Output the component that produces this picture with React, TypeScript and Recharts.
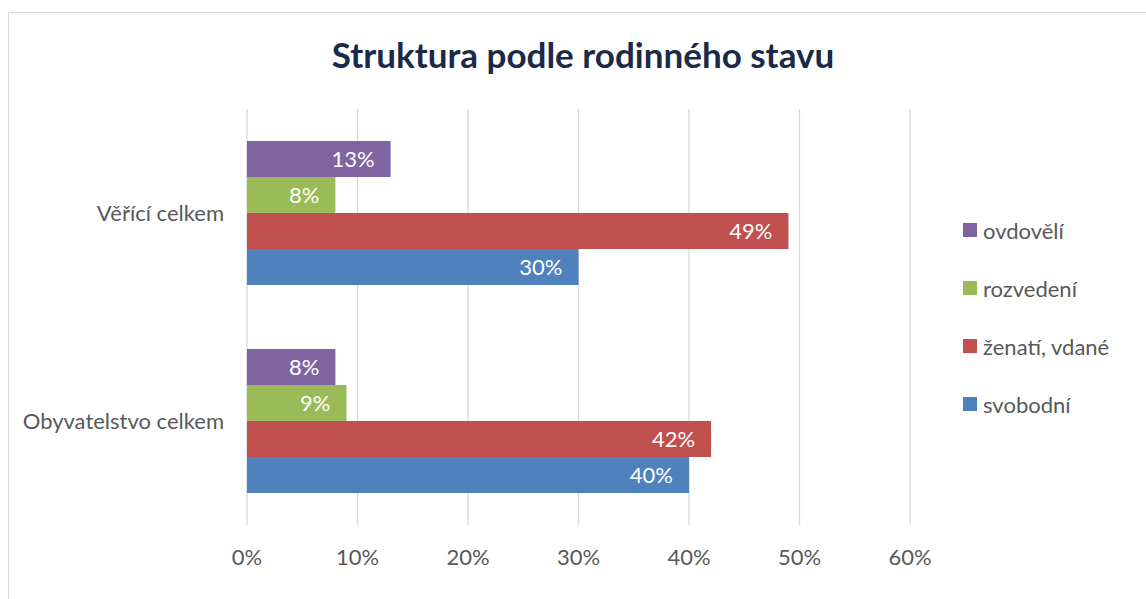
import { BarChart, Bar, XAxis, YAxis, CartesianGrid, Legend, LabelList } from "recharts";

const categories = ["Věřící celkem", "Obyvatelstvo celkem"];
const ovdoveli = [13, 8];
const rozvedeni = [8, 9];
const zenati = [49, 42];
const svobodni = [30, 40];
const xTicks = [0, 10, 20, 30, 40, 50, 60];

const series = [
  { key: "ovdoveli", name: "ovdovělí", color: "#8064A2", values: ovdoveli },
  { key: "rozvedeni", name: "rozvedení", color: "#9BBB59", values: rozvedeni },
  { key: "zenati", name: "ženatí, vdané", color: "#C0504D", values: zenati },
  { key: "svobodni", name: "svobodní", color: "#4F81BD", values: svobodni },
];
const legendOrder = series.map((s) => s.name);

const data = categories.map((name, i) => {
  const row: Record<string, string | number> = { name };
  for (const s of series) row[s.key] = s.values[i];
  return row;
});

const FONT = "Lato, 'Open Sans', sans-serif";
const GRAY = "#595959";
const TXT = 22;

function LegendBox({ payload }: { payload?: any[] }) {
  return (
    <div style={{ fontFamily: FONT }}>
      {(payload ?? []).map((p) => (
        <div
          key={p.value}
          style={{ display: "flex", alignItems: "center", height: 58 }}
        >
          <span
            style={{
              width: 14,
              height: 14,
              backgroundColor: p.color,
              display: "inline-block",
              marginRight: 6,
            }}
          />
          <span style={{ fontSize: TXT, color: GRAY }}>{p.value}</span>
        </div>
      ))}
    </div>
  );
}

export default function App() {
  return (
    <div
      style={{
        position: "absolute",
        left: 0,
        top: 0,
        width: 1146,
        height: 599,
        background: "#fff",
        overflow: "hidden",
        fontFamily: FONT,
      }}
    >
      <div
        style={{
          position: "absolute",
          left: 8,
          top: 12,
          width: 1150,
          height: 600,
          border: "1.5px solid #D9D9D9",
        }}
      />
      <div
        style={{
          position: "absolute",
          left: 0,
          width: 1166,
          top: 33,
          textAlign: "center",
          fontSize: 35,
          fontWeight: 700,
          color: "#1B2A47",
        }}
      >
        Struktura podle rodinného stavu
      </div>
      <div style={{ position: "absolute", left: 0, top: 0 }}>
        <BarChart
          width={1146}
          height={599}
          data={data}
          layout="vertical"
          margin={{ top: 109, right: 236, bottom: 0, left: 0 }}
          barCategoryGap={32}
          barGap={0}
        >
          <CartesianGrid horizontal={false} stroke="#D9D9D9" strokeWidth={1.3} />
          <XAxis
            type="number"
            domain={[0, 60]}
            ticks={xTicks}
            tickFormatter={(v) => `${v}%`}
            axisLine={false}
            tickLine={false}
            tickSize={0}
            tickMargin={24}
            height={74}
            tick={{ fill: GRAY, fontSize: TXT, fontFamily: FONT }}
          />
          <YAxis
            type="category"
            dataKey="name"
            width={247}
            axisLine={false}
            tickLine={false}
            tickSize={0}
            tickMargin={23}
            tick={{ fill: GRAY, fontSize: TXT, fontFamily: FONT }}
          />
          <Legend
            layout="vertical"
            align="center"
            verticalAlign="middle"
            itemSorter={(item: any) => legendOrder.indexOf(item.value)}
            wrapperStyle={{ left: 963, top: 201, width: 180 }}
            content={<LegendBox />}
          />
          {series.map((s) => (
            <Bar
              key={s.key}
              dataKey={s.key}
              name={s.name}
              fill={s.color}
              isAnimationActive={false}
            >
              <LabelList
                dataKey={s.key}
                position="insideRight"
                offset={16}
                formatter={(v: any) => `${v}%`}
                fill="#fff"
                style={{ fontSize: TXT, fontFamily: FONT }}
              />
            </Bar>
          ))}
        </BarChart>
      </div>
    </div>
  );
}
